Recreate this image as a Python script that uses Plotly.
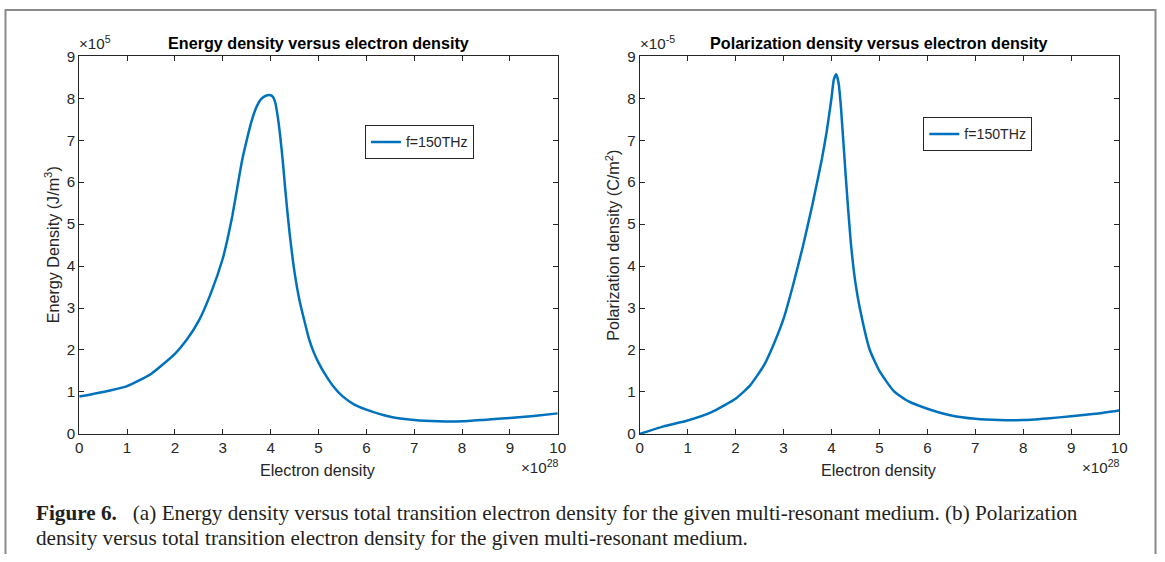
import plotly.graph_objects as go

W, H = 1165, 562
# measured mapping of the photographed page: picture = A + S * figure pixel
AX0, SX = 3.7, 0.9907
AY0, SY = 7.7, 0.9706

# ---- data (x in units of 1e28, y in units of the axis multiplier) ----
x_energy = [0, 0.5, 1, 1.5, 2, 2.25, 2.5, 2.75, 3.0, 3.1, 3.2, 3.3, 3.4, 3.5, 3.6, 3.7,
            3.8, 3.9, 4.0, 4.05, 4.1, 4.15, 4.2, 4.25, 4.3, 4.35, 4.4, 4.5, 4.6, 4.7,
            4.8, 4.9, 5.0, 5.15, 5.3, 5.5, 5.75, 6.0, 6.5, 7.0, 7.5, 8.0, 8.5, 9.0, 9.5, 10]
y_energy = [0.89, 1.0, 1.14, 1.43, 1.91, 2.25, 2.7, 3.35, 4.18, 4.65, 5.2, 5.85, 6.5, 7.0,
            7.45, 7.78, 7.98, 8.06, 8.07, 8.03, 7.88, 7.55, 7.1, 6.55, 5.9, 5.3, 4.75, 3.85,
            3.2, 2.72, 2.27, 1.95, 1.7, 1.4, 1.15, 0.9, 0.7, 0.58, 0.41, 0.33, 0.30, 0.30,
            0.34, 0.38, 0.43, 0.49]

x_polar = [0, 0.5, 1, 1.5, 2, 2.3, 2.6, 2.8, 3.0, 3.2, 3.4, 3.6, 3.8, 3.9, 4.0, 4.05, 4.1,
           4.15, 4.2, 4.3, 4.4, 4.5, 4.6, 4.8, 5.0, 5.3, 5.6, 6.0, 6.5, 7.0, 7.5, 8.0,
           8.5, 9.0, 9.5, 10]
y_polar = [0.0, 0.18, 0.32, 0.52, 0.84, 1.15, 1.65, 2.15, 2.74, 3.55, 4.45, 5.45, 6.55,
           7.2, 8.0, 8.45, 8.57, 8.35, 7.75, 6.1, 4.6, 3.6, 2.95, 2.0, 1.5, 1.02, 0.78,
           0.6, 0.44, 0.36, 0.33, 0.33, 0.37, 0.42, 0.48, 0.56]

x_ticks = list(range(0, 11))
y_ticks = list(range(0, 10))
legend_label = "f=150THz"
titles = ["Energy density versus electron density", "Polarization density versus electron density"]
ylabels = ["Energy Density (J/m<sup>3</sup>)", "Polarization density (C/m<sup>2</sup>)"]
xlabel = "Electron density"
y_mult = ["×10<sup>5</sup>", "×10<sup>-5</sup>"]
x_mult = "×10<sup>28</sup>"
caption1 = "<b>Figure 6.</b>   (a) Energy density versus total transition electron density for the given multi-resonant medium. (b) Polarization"
caption2 = "density versus total transition electron density for the given multi-resonant medium."

LINE = "#0072BD"
AXC = "#262626"
FONT = "Liberation Sans, Arial, Helvetica, sans-serif"
SERIF = "Liberation Serif, Times New Roman, serif"
FS = 1.01  # font compensation

def px(x):
    """target picture x (pixels) -> paper fraction"""
    return ((x - AX0) / SX) / W

def py(y):
    """target picture y (pixels) -> paper fraction"""
    return 1 - ((y - AY0) / SY) / H

boxes = [(79, 558), (640, 1120)]
ytop, ybot = 55, 433

fig = go.Figure()
fig.add_trace(go.Scatter(x=x_energy, y=y_energy, mode="lines", name=legend_label,
                         line=dict(color=LINE, width=2.5, shape="spline", smoothing=0.5),
                         xaxis="x", yaxis="y", legend="legend"))
fig.add_trace(go.Scatter(x=x_polar, y=y_polar, mode="lines", name=legend_label,
                         line=dict(color=LINE, width=2.5, shape="spline", smoothing=0.5),
                         xaxis="x2", yaxis="y2", legend="legend2"))

axis_common = dict(showline=True, linecolor=AXC, linewidth=1, mirror="ticks",
                   ticks="inside", ticklen=5, tickcolor=AXC, tickwidth=1,
                   showgrid=False, zeroline=False,
                   tickfont=dict(family=FONT, size=15 * FS, color=AXC))

layout = dict(width=W, height=H, margin=dict(l=0, r=0, t=0, b=0),
              paper_bgcolor="white", plot_bgcolor="white", showlegend=True,
              font=dict(family=FONT, color=AXC))

for i, (l, r) in enumerate(boxes):
    sx = "" if i == 0 else "2"
    layout["xaxis" + sx] = dict(domain=[px(l), px(r)], range=[0, 10], tickvals=x_ticks,
                                anchor="y" + sx, **axis_common)
    layout["yaxis" + sx] = dict(domain=[py(ybot), py(ytop)], range=[0, 9], tickvals=y_ticks,
                                anchor="x" + sx, **axis_common)

layout["legend"] = dict(x=px(365), y=py(124), xanchor="left", yanchor="top",
                        bgcolor="white", bordercolor=AXC, borderwidth=1,
                        font=dict(family=FONT, size=14 * FS, color=AXC),
                        tracegroupgap=0, itemwidth=30)
layout["legend2"] = dict(x=px(924), y=py(116), xanchor="left", yanchor="top",
                         bgcolor="white", bordercolor=AXC, borderwidth=1,
                         font=dict(family=FONT, size=14 * FS, color=AXC),
                         tracegroupgap=0, itemwidth=30)

fig.update_layout(**layout)

ann = []
for i, (l, r) in enumerate(boxes):
    cx = (l + r) / 2
    ann.append(dict(text="<b>" + titles[i] + "</b>", x=px(cx), y=py(42), xref="paper", yref="paper",
                    xanchor="center", yanchor="middle", showarrow=False,
                    font=dict(family=FONT, size=16 * FS, color="black")))
    ann.append(dict(text=y_mult[i], x=px(l - 2), y=py(53), xref="paper", yref="paper",
                    xanchor="left", yanchor="bottom", showarrow=False,
                    font=dict(family=FONT, size=15 * FS, color=AXC)))
    ann.append(dict(text=xlabel, x=px(cx), y=py(469), xref="paper", yref="paper",
                    xanchor="center", yanchor="middle", showarrow=False,
                    font=dict(family=FONT, size=16 * FS, color=AXC)))
    ann.append(dict(text=x_mult, x=px(r + 3), y=py(477), xref="paper", yref="paper",
                    xanchor="right", yanchor="bottom", showarrow=False,
                    font=dict(family=FONT, size=15 * FS, color=AXC)))
    ann.append(dict(text=ylabels[i], x=px(l - 27), y=py((ytop + ybot) / 2), xref="paper", yref="paper",
                    xanchor="center", yanchor="middle", textangle=-90, showarrow=False,
                    font=dict(family=FONT, size=16 * FS, color=AXC)))

ann.append(dict(text=caption1, x=px(34), y=py(512), xref="paper", yref="paper",
                xanchor="left", yanchor="middle", showarrow=False,
                font=dict(family=SERIF, size=21 * FS, color="#231f20")))
ann.append(dict(text=caption2, x=px(34), y=py(537), xref="paper", yref="paper",
                xanchor="left", yanchor="middle", showarrow=False,
                font=dict(family=SERIF, size=21 * FS, color="#231f20")))

fig.update_layout(annotations=ann)

# outer frame of the figure panel (clamped to the drawable area)
fx0 = max(px(5), 1.5 / W)
fy0 = min(py(8), 1 - 1 / H)
fx1 = min(px(1160), 1 - 1.5 / W)
fig.add_shape(type="path", xref="paper", yref="paper",
              path=f"M {fx0} 0 L {fx0} {fy0} L {fx1} {fy0} L {fx1} 0",
              line=dict(color="#8a8a8a", width=2))

fig.write_html("out.html")
